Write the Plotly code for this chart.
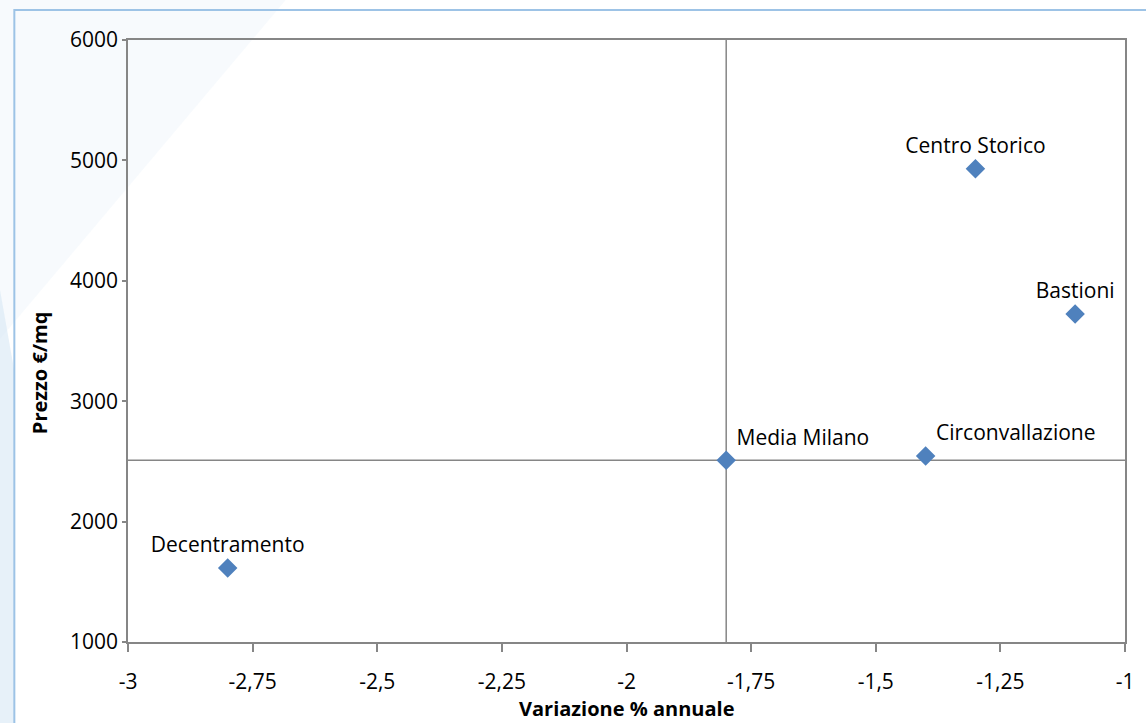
import plotly.graph_objects as go

# Data
zone = ["Decentramento", "Media Milano", "Circonvallazione", "Centro Storico", "Bastioni"]
variazione = [-2.80, -1.80, -1.40, -1.30, -1.10]
prezzo = [1615, 2510, 2545, 4930, 3725]
x_ticks = [-3, -2.75, -2.5, -2.25, -2, -1.75, -1.5, -1.25, -1]
x_tick_labels = ["-3", "-2,75", "-2,5", "-2,25", "-2", "-1,75", "-1,5", "-1,25", "-1"]
y_ticks = [1000, 2000, 3000, 4000, 5000, 6000]

FONT = "Open Sans"
FS = 21
ref_idx = zone.index("Media Milano")
ref_x, ref_y = variazione[ref_idx], prezzo[ref_idx]

text_pos = ["top center", "top right", "top right", "top center", "top center"]

fig = go.Figure()
fig.add_trace(go.Scatter(
    x=variazione, y=prezzo, mode="markers+text", text=zone,
    textposition=text_pos,
    textfont=dict(family=FONT, size=FS, color="#000000"),
    marker=dict(symbol="diamond", size=15, color="#4F81BD", line=dict(width=0)),
    cliponaxis=False, showlegend=False,
))

# reference lines through Media Milano
fig.add_shape(type="line", xref="x", yref="paper", x0=ref_x, x1=ref_x, y0=0, y1=1,
              line=dict(color="#868686", width=1.5), layer="below")
fig.add_shape(type="line", xref="paper", yref="y", x0=0, x1=1, y0=ref_y, y1=ref_y,
              line=dict(color="#868686", width=1.5), layer="below")

# faint background swoosh at left
fig.add_shape(type="path", xref="paper", yref="paper",
              path="M -0.13 0.5 L -0.13 1.07 L 0.16 1.07 Z",
              fillcolor="rgba(228,240,249,0.3)", line=dict(width=0), layer="below")
fig.add_shape(type="path", xref="paper", yref="paper",
              path="M -0.13 -0.14 L -0.114 -0.14 L -0.114 0.45 L -0.13 0.6 Z",
              fillcolor="rgba(215,232,245,0.6)", line=dict(width=0), layer="below")

# chart frame (light blue)
fig.add_shape(type="rect", xref="paper", yref="paper",
              x0=-0.114, x1=1.05, y0=-0.2, y1=1.0498,
              line=dict(color="#9DC3E6", width=2), fillcolor="rgba(0,0,0,0)")

fig.update_xaxes(
    range=[-3, -1], tickvals=x_ticks, ticktext=x_tick_labels,
    showgrid=False, zeroline=False, showline=True, linecolor="#868686", linewidth=1.5,
    mirror=True, ticks="outside", ticklen=8, tickcolor="#868686", tickwidth=1.5,
    ticklabelstandoff=12,
    tickfont=dict(family=FONT, size=FS, color="#000000"),
)
fig.update_yaxes(
    range=[1000, 6000], tickvals=y_ticks,
    showgrid=False, zeroline=False, showline=True, linecolor="#868686", linewidth=1.5,
    mirror=True, ticks="outside", ticklen=4, tickcolor="#868686", tickwidth=1.5,
    tickfont=dict(family=FONT, size=FS, color="#000000"),
)

fig.add_annotation(text="<b>Prezzo €/mq</b>", xref="paper", yref="paper",
                   x=-0.088, y=0.447, textangle=-90, showarrow=False,
                   xanchor="center", yanchor="middle",
                   font=dict(family=FONT, size=FS - 1, color="#000000"))
fig.add_annotation(text="<b>Variazione % annuale</b>", xref="paper", yref="paper",
                   x=0.5, y=-0.111, showarrow=False, yanchor="middle",
                   font=dict(family=FONT, size=FS - 1, color="#000000"))

fig.update_layout(
    width=1146, height=723,
    margin=dict(l=128, r=18, t=40, b=81),
    paper_bgcolor="white", plot_bgcolor="white",
    font=dict(family=FONT),
)

fig.write_html(
    "out.html",
    config={"displayModeBar": False},
    post_script="document.body.style.margin='0';document.body.style.overflow='hidden';",
)
